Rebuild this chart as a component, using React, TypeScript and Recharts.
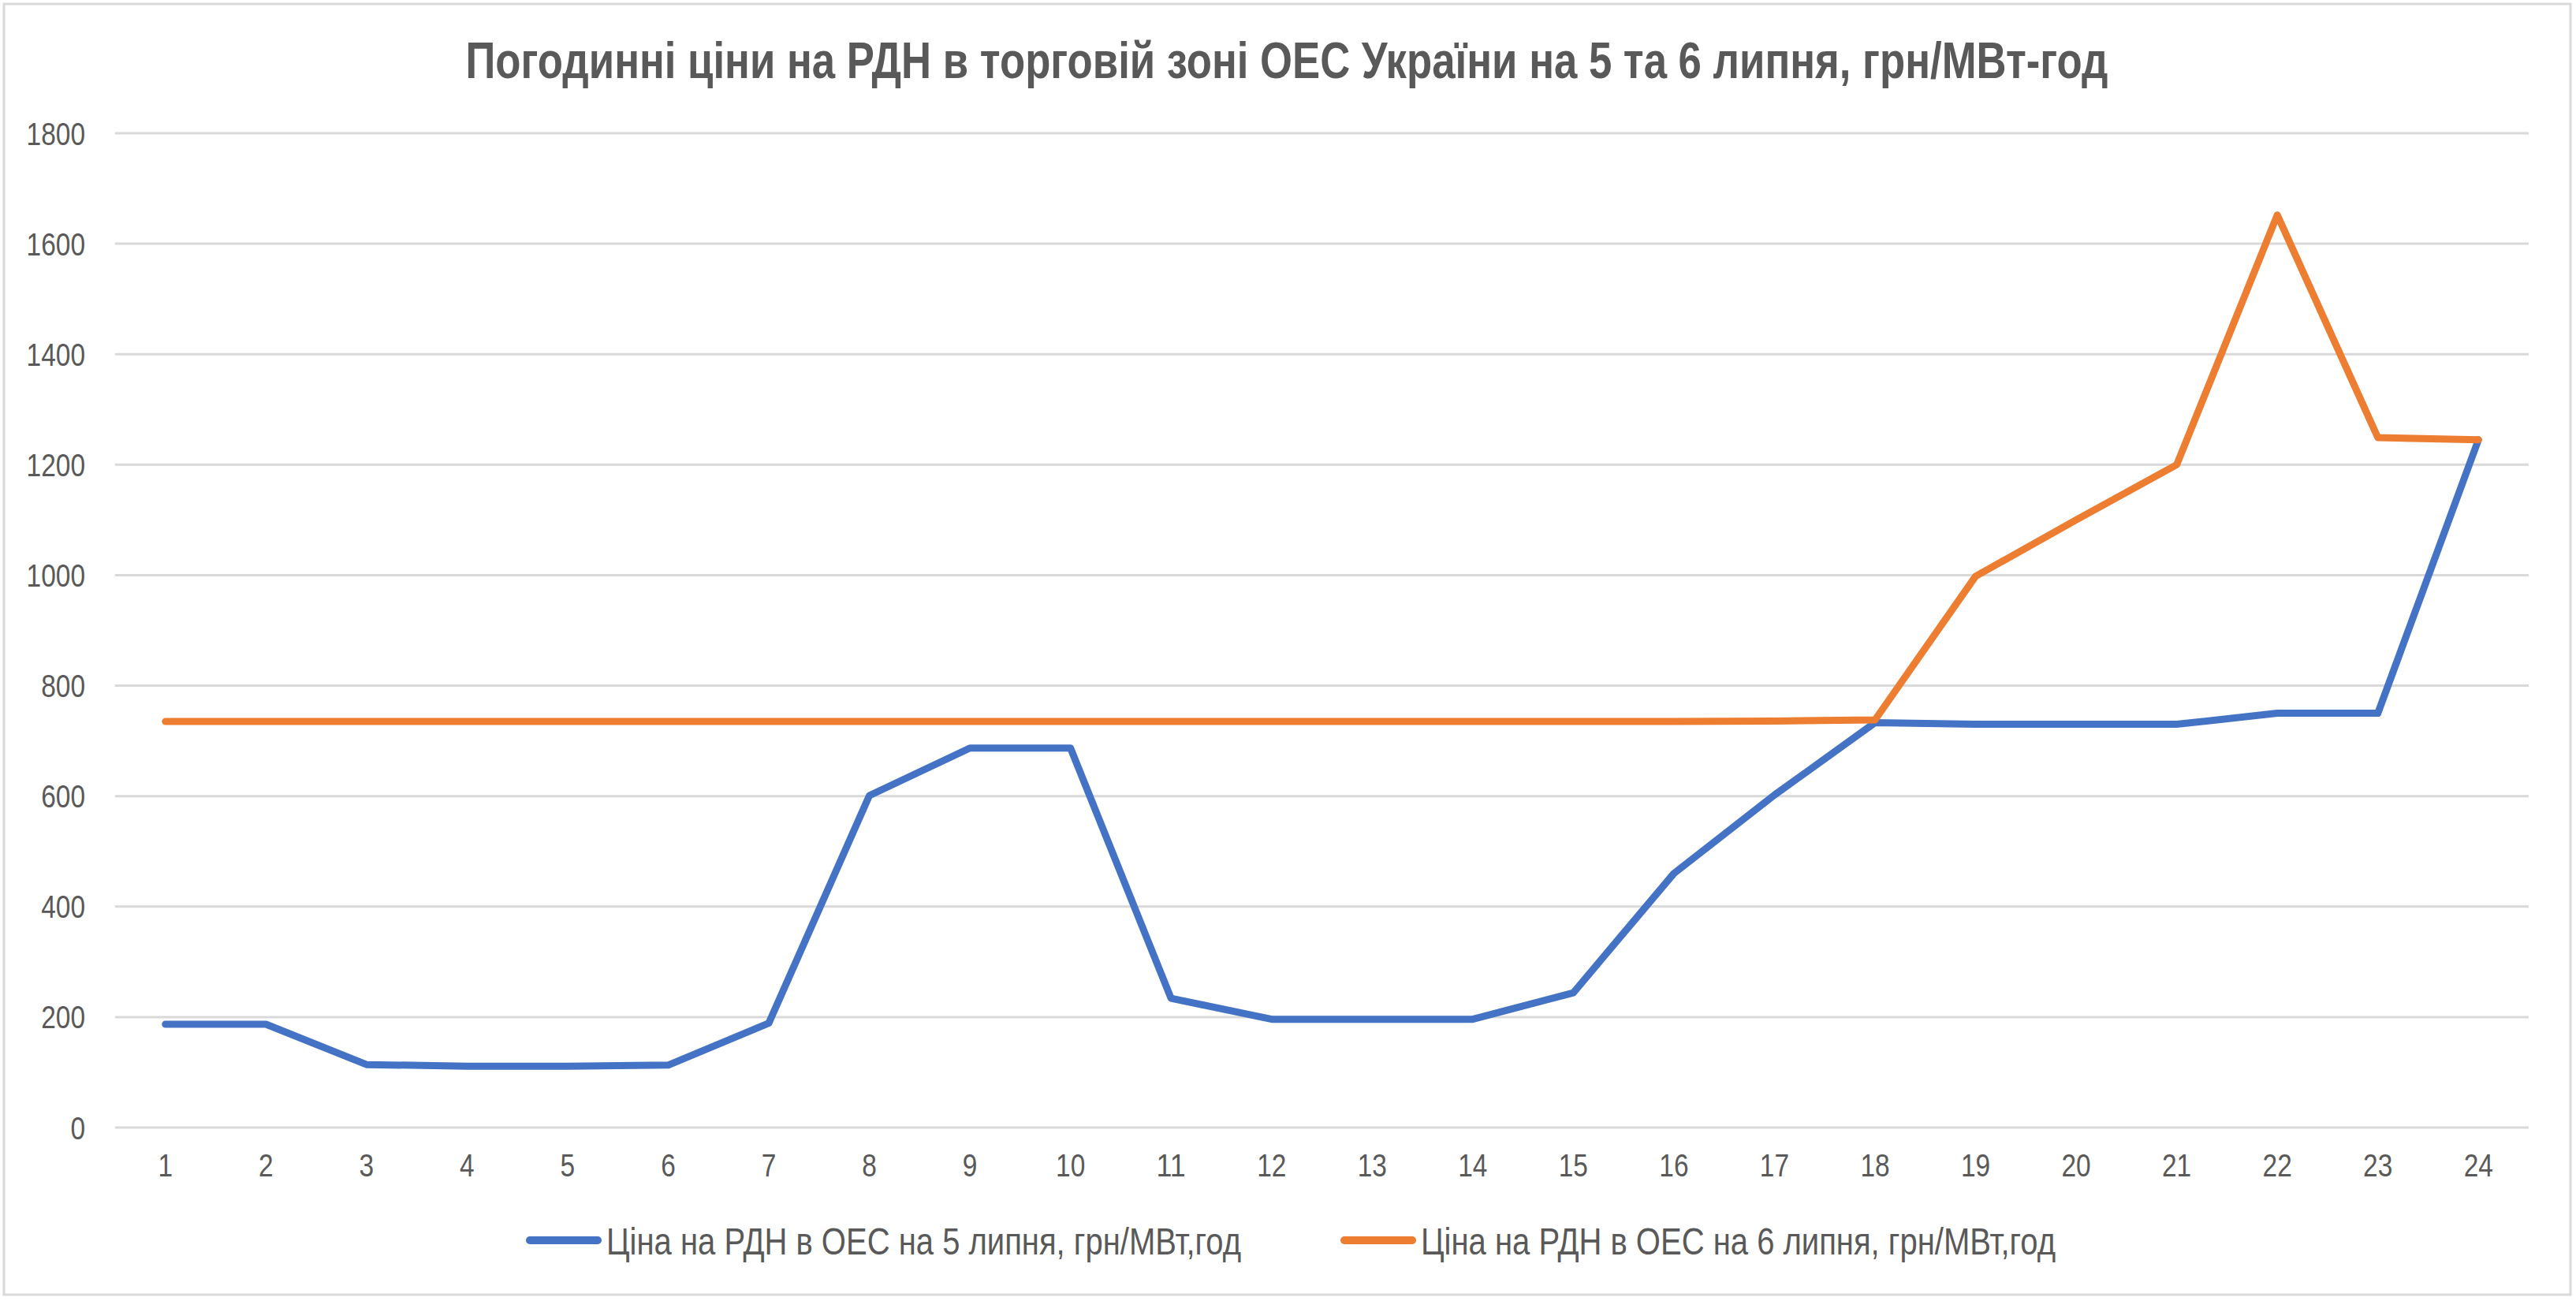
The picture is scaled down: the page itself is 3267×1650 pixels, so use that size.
import React from "react";
import { LineChart, Line, XAxis, YAxis, CartesianGrid, Legend } from "recharts";

// години доби
const hours = [
  "1", "2", "3", "4", "5", "6", "7", "8", "9", "10", "11", "12",
  "13", "14", "15", "16", "17", "18", "19", "20", "21", "22", "23", "24",
];

// ціна на РДН 5 липня, грн/МВт·год
const price5 = [
  187, 187, 114, 111, 111, 113, 189, 601, 687, 687, 234, 196,
  196, 196, 244, 460, 602, 733, 730, 730, 730, 750, 750, 1245,
];

// ціна на РДН 6 липня, грн/МВт·год
const price6 = [
  735, 735, 735, 735, 735, 735, 735, 735, 735, 735, 735, 735,
  735, 735, 735, 735, 736, 738, 998, 1100, 1200, 1652, 1249, 1245,
];

const yTicks = [0, 200, 400, 600, 800, 1000, 1200, 1400, 1600, 1800];

const title =
  "Погодинні ціни на РДН в торговій зоні ОЕС України на 5 та 6 липня, грн/МВт-год";
const name5 = "Ціна на РДН в ОЕС на 5 липня, грн/МВт,год";
const name6 = "Ціна на РДН в ОЕС на 6 липня, грн/МВт,год";

const data = hours.map((h, i) => ({ hour: h, d5: price5[i], d6: price6[i] }));

const W = 3267;
const H = 1650;
const FONT = "'Liberation Sans Narrow', 'Arial Narrow', 'Liberation Sans', Arial, sans-serif";
const TEXT = "#595959";
const BLUE = "#4472C4";
const ORANGE = "#ED7D31";
const DIGIT_W = 18.6; // ширина цифри у вузькому шрифті

// підписи осей — вузький шрифт імітуємо через textLength
function XTick(props: any) {
  const s = String(props.payload.value);
  return (
    <text
      x={props.x}
      y={props.y}
      dy="0.71em"
      textAnchor="middle"
      fill={TEXT}
      fontFamily={FONT}
      fontSize={41}
      textLength={s.length * DIGIT_W}
      lengthAdjust="spacingAndGlyphs"
    >
      {s}
    </text>
  );
}

function YTick(props: any) {
  const s = String(props.payload.value);
  return (
    <text
      x={props.x}
      y={props.y}
      dy="0.355em"
      textAnchor="end"
      fill={TEXT}
      fontFamily={FONT}
      fontSize={41}
      textLength={s.length * DIGIT_W}
      lengthAdjust="spacingAndGlyphs"
    >
      {s}
    </text>
  );
}

function ChartLegend() {
  const items = [
    { color: BLUE, label: name5, x: 667, tx: 769 },
    { color: ORANGE, label: name6, x: 1700, tx: 1802 },
  ];
  return (
    <svg width={W} height={140} style={{ display: "block" }}>
      {items.map((it) => (
        <g key={it.label}>
          <line
            x1={it.x + 5}
            x2={it.x + 91}
            y1={73}
            y2={73}
            stroke={it.color}
            strokeWidth={10}
            strokeLinecap="round"
          />
          <text
            x={it.tx}
            y={73}
            dy="0.36em"
            fill={TEXT}
            fontFamily={FONT}
            fontSize={49}
            textLength={805}
            lengthAdjust="spacingAndGlyphs"
          >
            {it.label}
          </text>
        </g>
      ))}
    </svg>
  );
}

export default function App() {
  return (
    <div style={{ position: "absolute", left: 0, top: 0, width: W, height: H, background: "#fff" }}>
      <LineChart
        width={W}
        height={H}
        data={data}
        margin={{ top: 169, right: 60, bottom: 10, left: 0 }}
      >
        <CartesianGrid vertical={false} stroke="#D9D9D9" strokeWidth={3} />
        <XAxis
          dataKey="hour"
          axisLine={false}
          tickLine={false}
          tickSize={0}
          tickMargin={33}
          height={70}
          interval={0}
          padding={{ left: 63.75, right: 63.75 }}
          tick={<XTick />}
        />
        <YAxis
          domain={[0, 1800]}
          ticks={yTicks}
          axisLine={false}
          tickLine={false}
          tickSize={0}
          tickMargin={38}
          width={146}
          tick={<YTick />}
        />
        <Legend
          verticalAlign="bottom"
          wrapperStyle={{ left: 0, width: W, height: 140 }}
          content={() => <ChartLegend />}
        />
        <Line
          name={name5}
          dataKey="d5"
          type="linear"
          stroke={BLUE}
          strokeWidth={9}
          strokeLinecap="round"
          strokeLinejoin="round"
          dot={false}
          activeDot={false}
          isAnimationActive={false}
        />
        <Line
          name={name6}
          dataKey="d6"
          type="linear"
          stroke={ORANGE}
          strokeWidth={9}
          strokeLinecap="round"
          strokeLinejoin="round"
          dot={false}
          activeDot={false}
          isAnimationActive={false}
        />
      </LineChart>
      <svg
        width={W}
        height={H}
        style={{ position: "absolute", left: 0, top: 0, pointerEvents: "none" }}
      >
        <rect x={5} y={5} width={3255} height={1637} fill="none" stroke="#D9D9D9" strokeWidth={3} />
        <text
          x={1632}
          y={99}
          textAnchor="middle"
          fill={TEXT}
          fontFamily={FONT}
          fontWeight="bold"
          fontSize={65}
          textLength={2083}
          lengthAdjust="spacingAndGlyphs"
        >
          {title}
        </text>
      </svg>
    </div>
  );
}
